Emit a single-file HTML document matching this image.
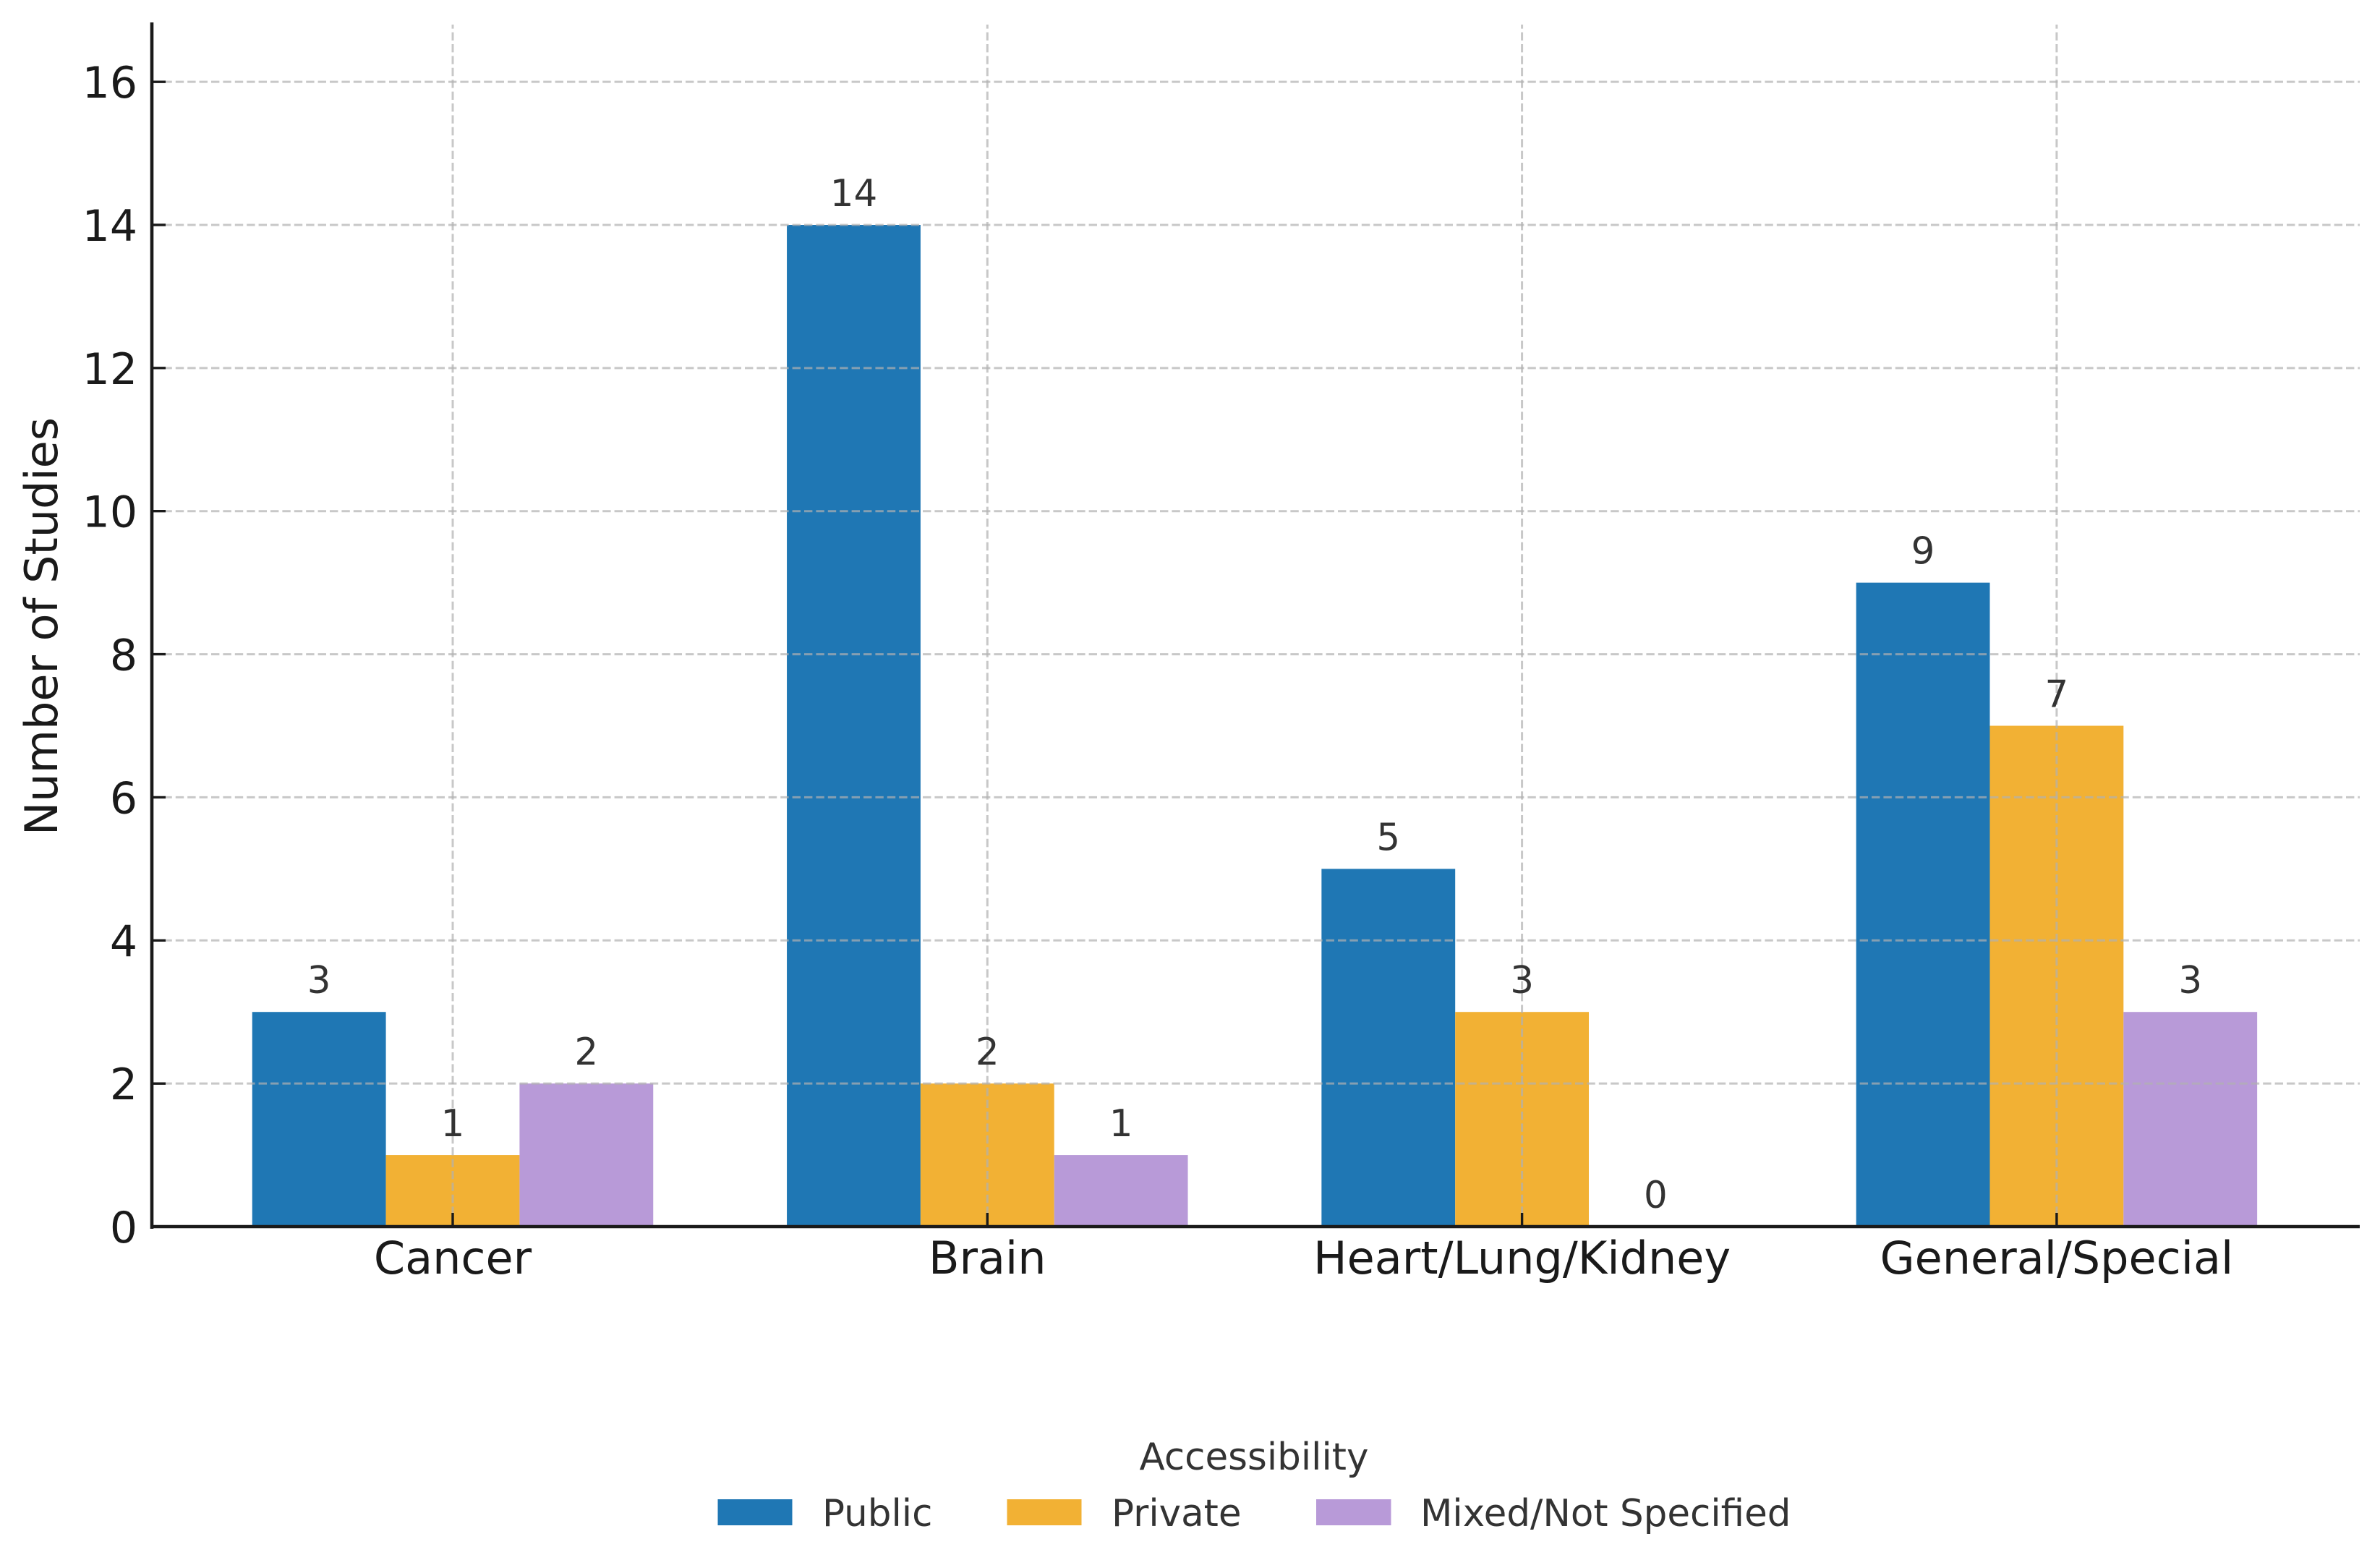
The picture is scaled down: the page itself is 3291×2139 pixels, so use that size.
<!DOCTYPE html>
<html lang="en">
<head>
<meta charset="utf-8">
<title>Number of Studies by Organ and Accessibility</title>
<style>
html,body{margin:0;padding:0;background:#fff;}
svg{display:block;font-family:"DejaVu Sans","Liberation Sans",sans-serif;}
</style>
</head>
<body>
<svg id="chart" xmlns="http://www.w3.org/2000/svg" width="3291" height="2139" viewBox="0 0 3291 2139">
  <rect x="0" y="0" width="3291" height="2139" fill="#ffffff"/>
  <g id="bars"></g>
  <g id="grid"></g>
  <g id="ticks"></g>
  <line x1="210" y1="31" x2="210" y2="1699" stroke="#1a1a1a" stroke-width="4.6"/>
  <line x1="208" y1="1696" x2="3263" y2="1696" stroke="#1a1a1a" stroke-width="4.6"/>
  <g id="labels"></g>
  <text transform="translate(79,866) rotate(-90)" text-anchor="middle" font-size="62" fill="#1a1a1a">Number of Studies</text>
  <g>
    <text x="1734" y="2032" text-anchor="middle" font-size="51.5" fill="#333333">Accessibility</text>
    <g>
      <rect x="992.5" y="2073" width="103" height="36" fill="#1f77b4"/>
      <text x="1137" y="2110" font-size="51.5" fill="#333333">Public</text>
    </g>
    <g>
      <rect x="1392.5" y="2073" width="103" height="36" fill="#f2b134"/>
      <text x="1537" y="2110" font-size="51.5" fill="#333333">Private</text>
    </g>
    <g>
      <rect x="1820" y="2073" width="103.5" height="36" fill="#b89ad8"/>
      <text x="1964" y="2110" font-size="51.5" fill="#333333">Mixed/Not Specified</text>
    </g>
  </g>
</svg>
<script>
const categories = ["Cancer", "Brain", "Heart/Lung/Kidney", "General/Special"];
const publicValues = [3, 14, 5, 9];
const privateValues = [1, 2, 3, 7];
const mixedValues = [2, 1, 0, 3];
const yTickLabels = [0, 2, 4, 6, 8, 10, 12, 14, 16];

const NS = "http://www.w3.org/2000/svg";
const plotLeft = 210, plotRight = 3263, plotTop = 34, plotBottom = 1696;
const yMax = 16.8;
const xStart = 626, xStep = 739.3, barShare = 0.25;
const barWidth = xStep * barShare;

function yScale(v) { return plotBottom - (v / yMax) * (plotBottom - plotTop); }
function xScale(i) { return xStart + i * xStep; }

function make(tag, attrs, parent, text) {
  const el = document.createElementNS(NS, tag);
  for (const k in attrs) el.setAttribute(k, attrs[k]);
  if (text !== undefined) el.textContent = text;
  parent.appendChild(el);
  return el;
}

const barsG = document.getElementById("bars");
const gridG = document.getElementById("grid");
const ticksG = document.getElementById("ticks");
const labelsG = document.getElementById("labels");

const gridStyle = { stroke: "#b0b0b0", "stroke-opacity": 0.7, "stroke-width": 3, "stroke-dasharray": "11.4 5" };

[publicValues, privateValues, mixedValues].forEach(function (vals, s) {
  const color = ["#1f77b4", "#f2b134", "#b89ad8"][s];
  const key = ["public", "private", "mixed"][s];
  vals.forEach(function (v, i) {
    const x = xScale(i) + (s - 1.5) * barWidth;
    const rect = make("rect", { x: x, y: yScale(v), width: barWidth, height: plotBottom - yScale(v), fill: color }, barsG);
    
    
    const label = make("text", { x: x + barWidth / 2, y: yScale(v) - 26, "text-anchor": "middle", "font-size": 51.5, fill: "#333333" }, labelsG, String(v));
    
    
  });
});

yTickLabels.forEach(function (t) {
  const y = yScale(t);
  if (t !== 0) {
    const g = make("line", Object.assign({ x1: plotLeft, y1: y, x2: plotRight, y2: y }, gridStyle), gridG);
    
    
  }
  const tick = make("line", { x1: plotLeft, y1: y, x2: plotLeft + 19, y2: y, stroke: "#1a1a1a", "stroke-width": 3.4 }, ticksG);
  
  
  const label = make("text", { x: 190, y: y + 22, "text-anchor": "end", "font-size": 60, fill: "#1a1a1a" }, labelsG, String(t));
  
  
});

categories.forEach(function (c, i) {
  const x = xScale(i);
  const g = make("line", Object.assign({ x1: x, y1: plotBottom, x2: x, y2: plotTop }, gridStyle), gridG);
  
  
  const tick = make("line", { x1: x, y1: plotBottom, x2: x, y2: plotBottom - 19, stroke: "#1a1a1a", "stroke-width": 3.4 }, ticksG);
  
  
  const label = make("text", { x: x, y: 1761, "text-anchor": "middle", "font-size": 62, fill: "#1a1a1a" }, labelsG, c);
  
  
});
</script>
</body>
</html>
